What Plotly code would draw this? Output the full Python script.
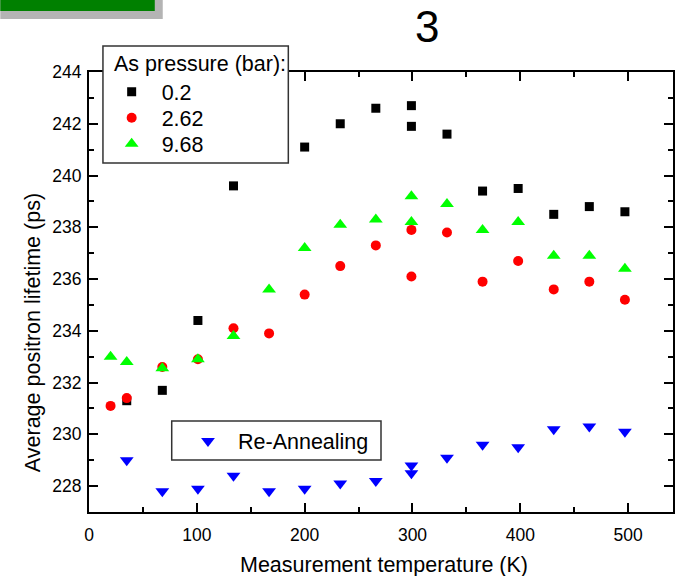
import plotly.graph_objects as go

# ---- data ----
T_p02 = [35, 68, 101, 134, 200, 233, 266, 299, 299, 332, 365, 398, 431, 464, 497]
L_p02 = [231.3, 231.7, 234.4, 239.6, 241.1, 242.0, 242.6, 242.7, 241.9, 241.6,
         239.4, 239.5, 238.5, 238.8, 238.6]

T_p262 = [20, 35, 68, 101, 134, 167, 200, 233, 266, 299, 299, 332, 365, 398, 431, 464, 497]
L_p262 = [231.1, 231.4, 232.6, 232.9, 234.1, 233.9, 235.4, 236.5, 237.3, 237.9,
          236.1, 237.8, 235.9, 236.7, 235.6, 235.9, 235.2]

T_p968 = [20, 35, 68, 101, 134, 167, 200, 233, 266, 299, 299, 332, 365, 398, 431, 464, 497]
L_p968 = [233.0, 232.8, 232.55, 232.9, 233.8, 235.6, 237.2, 238.1, 238.3, 239.2,
          238.2, 238.9, 237.9, 238.2, 236.9, 236.9, 236.4]

T_re = [35, 68, 101, 134, 167, 200, 233, 266, 299, 299, 332, 365, 398, 431, 464, 497]
L_re = [229.0, 227.8, 227.9, 228.4, 227.8, 227.9, 228.1, 228.2, 228.8, 228.5,
        229.1, 229.6, 229.5, 230.2, 230.3, 230.1]

W, H = 675, 576
ML, MR, MT, MB = 89, 0, 72, 64
PW, PH = W - ML - MR, H - MT - MB
FONT = "Arial, Liberation Sans, sans-serif"
FS = 21.5


def px(x):
    return (x - ML) / PW


def py(y):
    return (H - MB - y) / PH


fig = go.Figure()
fig.add_trace(go.Scatter(x=T_p02, y=L_p02, mode="markers", name="0.2",
                         marker=dict(symbol="square", size=9, color="#000000"),
                         legend="legend"))
fig.add_trace(go.Scatter(x=T_p262, y=L_p262, mode="markers", name="2.62",
                         marker=dict(symbol="circle", size=10, color="#FF0000"),
                         legend="legend3"))
fig.add_trace(go.Scatter(x=T_p968, y=L_p968, mode="markers", name="9.68",
                         marker=dict(symbol="triangle-up", size=12, color="#00FF00"),
                         legend="legend4"))
fig.add_trace(go.Scatter(x=T_re, y=L_re, mode="markers", name="Re-Annealing",
                         marker=dict(symbol="triangle-down", size=12, color="#0000FF"),
                         legend="legend2"))

axis_common = dict(showline=True, linecolor="black", linewidth=2, mirror="ticks",
                   ticks="inside", tickwidth=1.5, tickcolor="black", ticklen=9,
                   showgrid=False, zeroline=False,
                   tickfont=dict(family=FONT, size=17.5, color="black"))

fig.update_xaxes(range=[0, 541.6], dtick=100, tick0=0,
                 minor=dict(dtick=50, ticklen=5, tickwidth=1.5, tickcolor="black",
                            ticks="inside", showgrid=False),
                 ticklabelstandoff=6, **axis_common)
fig.update_yaxes(range=[227, 244], dtick=2, tick0=0,
                 minor=dict(dtick=1, ticklen=5, tickwidth=1.5, tickcolor="black",
                            ticks="inside", showgrid=False),
                 ticklabelstandoff=2, **axis_common)


def leg(xm, yc, iw):
    # legend positioned so that its symbol centre sits at pixel (xm, yc)
    return dict(x=px(xm - 5 - iw / 2), y=py(yc), xanchor="left", yanchor="middle",
                bgcolor="rgba(0,0,0,0)", borderwidth=0,
                font=dict(family=FONT, size=FS, color="black"), itemwidth=iw)


fig.update_layout(
    width=W, height=H,
    margin=dict(l=ML, r=MR, t=MT, b=MB, pad=0),
    plot_bgcolor="white", paper_bgcolor="white",
    font=dict(family=FONT, color="black"),
    showlegend=True,
    legend=leg(131.7, 91.7, 50),
    legend3=leg(131.7, 117.7, 50),
    legend4=leg(131.7, 143.7, 50),
    legend2=leg(208.3, 441, 50),
)

# legend frames
fig.add_shape(type="rect", xref="paper", yref="paper",
              x0=px(103), x1=px(289), y0=py(163), y1=py(46),
              fillcolor="white", line=dict(color="#333333", width=1.5), layer="above")
fig.add_shape(type="rect", xref="paper", yref="paper",
              x0=px(172), x1=px(382), y0=py(460), y1=py(421),
              fillcolor="white", line=dict(color="#333333", width=1.5), layer="above")
fig.add_annotation(x=px(112), y=py(64), xref="paper", yref="paper",
                   text="As pressure (bar):", showarrow=False,
                   font=dict(family=FONT, size=FS, color="black"),
                   xanchor="left", yanchor="middle")

# axis titles and panel label
fig.add_annotation(x=px(385), y=py(565), xref="paper", yref="paper",
                   text="Measurement temperature (K)", showarrow=False,
                   font=dict(family=FONT, size=FS, color="black"),
                   xanchor="center", yanchor="middle")
fig.add_annotation(x=px(33), y=py(333), xref="paper", yref="paper",
                   text="Average positron lifetime (ps)", showarrow=False,
                   textangle=-90,
                   font=dict(family=FONT, size=FS, color="black"),
                   xanchor="center", yanchor="middle")
fig.add_annotation(x=px(428), y=py(27), xref="paper", yref="paper",
                   text="3", showarrow=False,
                   font=dict(family=FONT, size=44, color="black"),
                   xanchor="center", yanchor="middle")

# cropped green label box at top-left
fig.add_shape(type="rect", xref="paper", yref="paper",
              x0=px(0), x1=px(163), y0=py(19), y1=py(-5),
              fillcolor="#b4b4b4", line=dict(width=0), layer="above")
fig.add_shape(type="rect", xref="paper", yref="paper",
              x0=px(0), x1=px(155), y0=py(11), y1=py(-5),
              fillcolor="#008000", line=dict(width=0), layer="above")

fig.write_html("out.html")
